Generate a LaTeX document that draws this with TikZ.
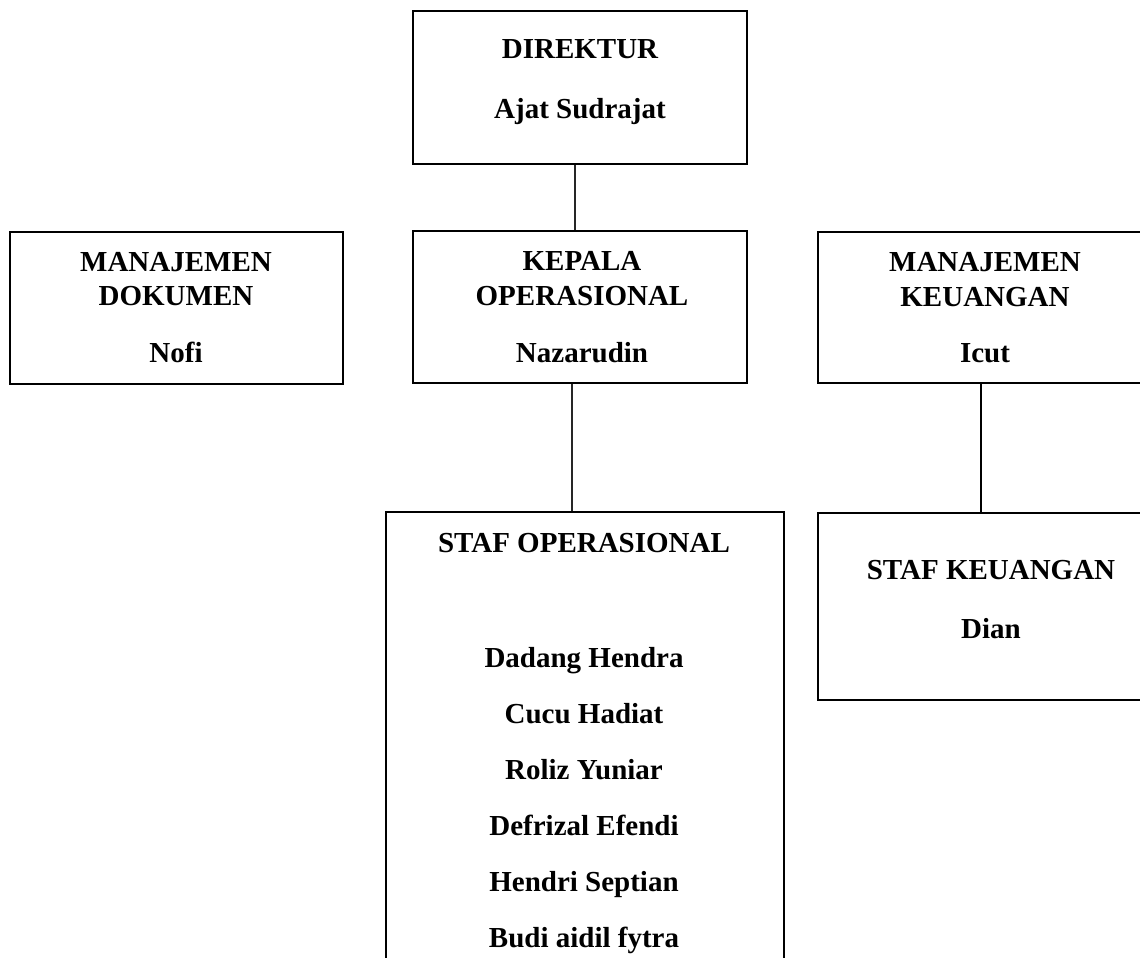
\documentclass[tikz,border=0pt]{standalone}
\usepackage{fontspec}
\setmainfont{Liberation Serif}
\begin{document}
\begin{tikzpicture}[x=1pt,y=-1pt,
  box/.style={draw=black, line width=2pt, inner sep=0pt, minimum width=#1},
  box/.default=334pt,
  lbl/.style={anchor=base, inner sep=0pt, font=\fontsize{29}{35}\selectfont\bfseries},
  thin/.style={draw=black!85, line width=1.3pt},
  thick/.style={draw=black, line width=2pt}]
\useasboundingbox (0,0) rectangle (1140,958);
\clip (0,0) rectangle (1140,958);
% boxes
\node[box, minimum height=153pt] (dir) at (580,87.5) {};
\node[box=333pt, minimum height=152pt] (md) at (176.5,308) {};
\node[box, minimum height=152pt] (kep) at (580,307) {};
\node[box, minimum height=151pt] (mk) at (985,307.5) {};
\node[box=398pt, minimum height=478pt] (so) at (585,751) {};
\node[box=346pt, minimum height=187pt] (sk) at (991,606.5) {};
% connectors
\draw[thin] ([xshift=-5pt]dir.south) -- ([xshift=-5pt]kep.north);
\draw[thin] ([xshift=-8pt]kep.south) -- ([xshift=-13pt]so.north);
\draw[thick] ([xshift=-4pt]mk.south) -- ([xshift=-10pt]sk.north);
% texts
\node[lbl] (t1) at (580,59) {DIREKTUR};
\node[lbl] (t2) at (580,118) {Ajat Sudrajat};
\node[lbl] (t3) at (176,271) {MANAJEMEN};
\node[lbl] (t4) at (176,305) {DOKUMEN};
\node[lbl] (t5) at (176,362) {Nofi};
\node[lbl] (t6) at (582,270) {KEPALA};
\node[lbl] (t7) at (582,305) {OPERASIONAL};
\node[lbl] (t8) at (582,362) {Nazarudin};
\node[lbl] (t9) at (985,271) {MANAJEMEN};
\node[lbl] (t10) at (985,306) {KEUANGAN};
\node[lbl] (t11) at (985,362) {Icut};
\node[lbl] (t12) at (584,552) {STAF OPERASIONAL};
\node[lbl] (t13) at (584,667) {Dadang Hendra};
\node[lbl] (t14) at (584,723) {Cucu Hadiat};
\node[lbl] (t15) at (584,779) {Roliz Yuniar};
\node[lbl] (t16) at (584,835) {Defrizal Efendi};
\node[lbl] (t17) at (584,891) {Hendri Septian};
\node[lbl] (t18) at (584,947) {Budi aidil fytra};
\node[lbl] (t19) at (991,579) {STAF KEUANGAN};
\node[lbl] (t20) at (991,638) {Dian};
\end{tikzpicture}
\end{document}
